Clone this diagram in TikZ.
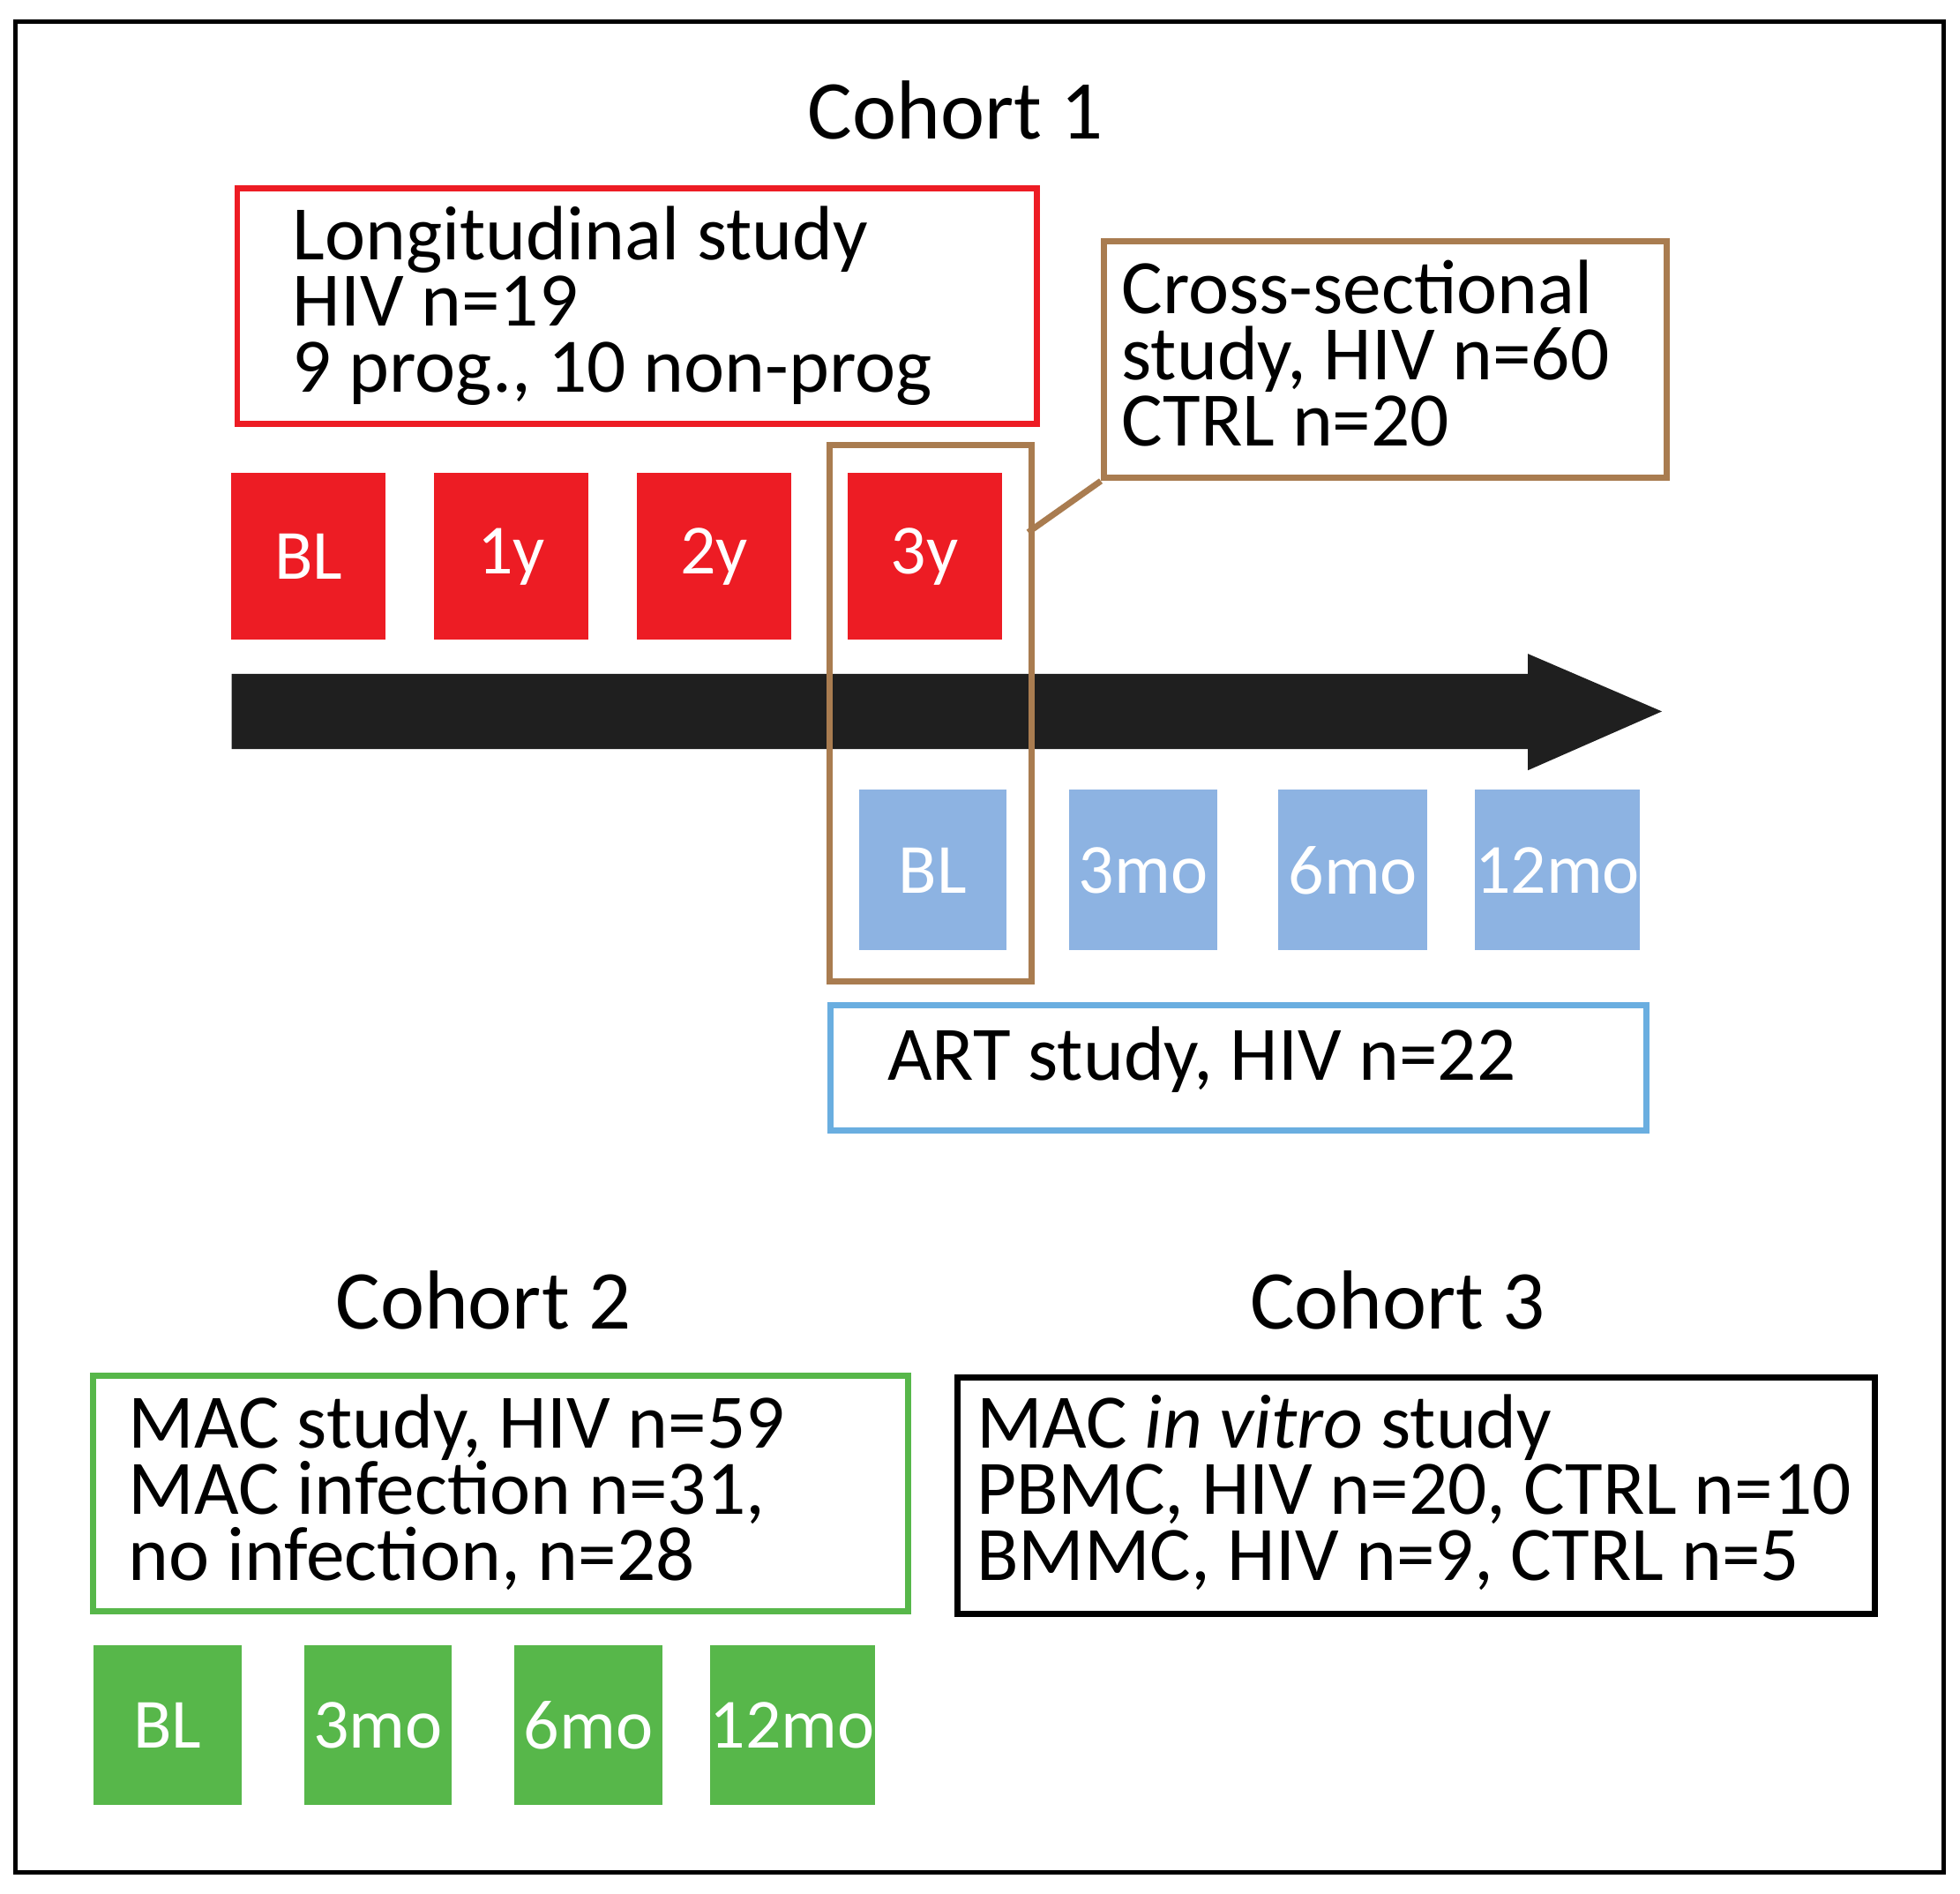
\documentclass[tikz,border=0pt]{standalone}
\usepackage{fontspec}
\setmainfont{Carlito}
\usetikzlibrary{positioning}
\definecolor{lred}{HTML}{ED1C24}
\definecolor{lblue}{HTML}{8DB3E2}
\definecolor{artblue}{HTML}{6AAEE0}
\definecolor{lgreen}{HTML}{57B74A}
\definecolor{lbrown}{HTML}{A97C50}
\begin{document}
\begin{tikzpicture}[x=0.01cm,y=-0.01cm]

\tikzset{
	tile/.style = {anchor=north west, inner sep=0pt, text=white, font=\fontsize{16}{16}\selectfont},
	box/.style = {anchor=north west, draw, line width=1.4pt, inner sep=0pt},
	boxtext/.style = {anchor=north west, align=left, inner sep=0pt, font=\fontsize{17.5}{15}\selectfont},
	title/.style = {font=\fontsize{19}{19}\selectfont}
}

\useasboundingbox (0,0) rectangle (1565,1512);
\draw[line width=1pt] (12,17) rectangle (1552,1495);

\node[title] (c1) at (763,88) {Cohort 1};
\node[title] (c2) at (386,1038) {Cohort 2};
\node[title] (c3) at (1116,1038) {Cohort 3};

% longitudinal study
\node[box, draw=lred, minimum width=6.38cm, minimum height=1.88cm] (lon) at (187,148) {};
\node[boxtext] (lontxt) at (233,164) {Longitudinal study\\HIV n=19\\9 prog., 10 non-prog};

\foreach \x/\t/\n in {184/BL/r1, 346/1y/r2, 508/2y/r3, 676/3y/r4}
{
	\node[tile, fill=lred, minimum width=1.23cm, minimum height=1.33cm] (\n) at (\x,377) {\t};
}

% time line
\coordinate (a1) at (185,538);
\coordinate (a2) at (1220,538);
\coordinate (a3) at (1220,522);
\coordinate (a4) at (1327,568);
\coordinate (a5) at (1220,615);
\coordinate (a6) at (1220,598);
\coordinate (a7) at (185,598);
\fill[black!88] (a1) -- (a2) -- (a3) -- (a4) -- (a5) -- (a6) -- (a7) -- cycle;

\foreach \x/\t/\n/\w in {685/BL/b1/1.18, 853/3mo/b2/1.18, 1020/6mo/b3/1.19, 1177/12mo/b4/1.30}
{
	\node[tile, fill=lblue, minimum width=\w cm, minimum height=1.28cm] (\n) at (\x,630) {\t};
}

% cross-sectional study
\node[box, draw=lbrown, minimum width=1.61cm, minimum height=4.28cm] (cs) at (660,353) {};
\node[box, draw=lbrown, minimum width=4.49cm, minimum height=1.89cm] (csb) at (879,190) {};
\node[boxtext] (cstxt) at (895,207) {Cross-sectional\\study, HIV n=60\\CTRL n=20};
\coordinate (cs1) at (821,425);
\draw[lbrown, line width=1.4pt] (cs1) -- (csb.south west);

% ART study
\node[box, draw=artblue, minimum width=6.51cm, minimum height=1.00cm] (art) at (661,800) {};
\node[boxtext] (arttxt) at (708,819) {ART study, HIV n=22};

% MAC study
\node[box, draw=lgreen, minimum width=6.50cm, minimum height=1.88cm] (mac) at (72,1096) {};
\node[boxtext] (mactxt) at (102,1113) {MAC study, HIV n=59\\MAC infection n=31,\\no infection, n=28};

\foreach \x/\t/\n/\w in {74/BL/g1/1.18, 242/3mo/g2/1.18, 410/6mo/g3/1.18, 566/12mo/g4/1.30}
{
	\node[tile, fill=lgreen, minimum width=\w cm, minimum height=1.27cm] (\n) at (\x,1313) {\t};
}

% in vitro study
\node[box, draw=black, minimum width=7.32cm, minimum height=1.89cm] (vit) at (762,1097) {};
\node[boxtext] (vittxt) at (779,1113) {MAC \textit{in vitro} study\\PBMC, HIV n=20, CTRL n=10\\BMMC, HIV n=9, CTRL n=5};

\end{tikzpicture}
\end{document}
